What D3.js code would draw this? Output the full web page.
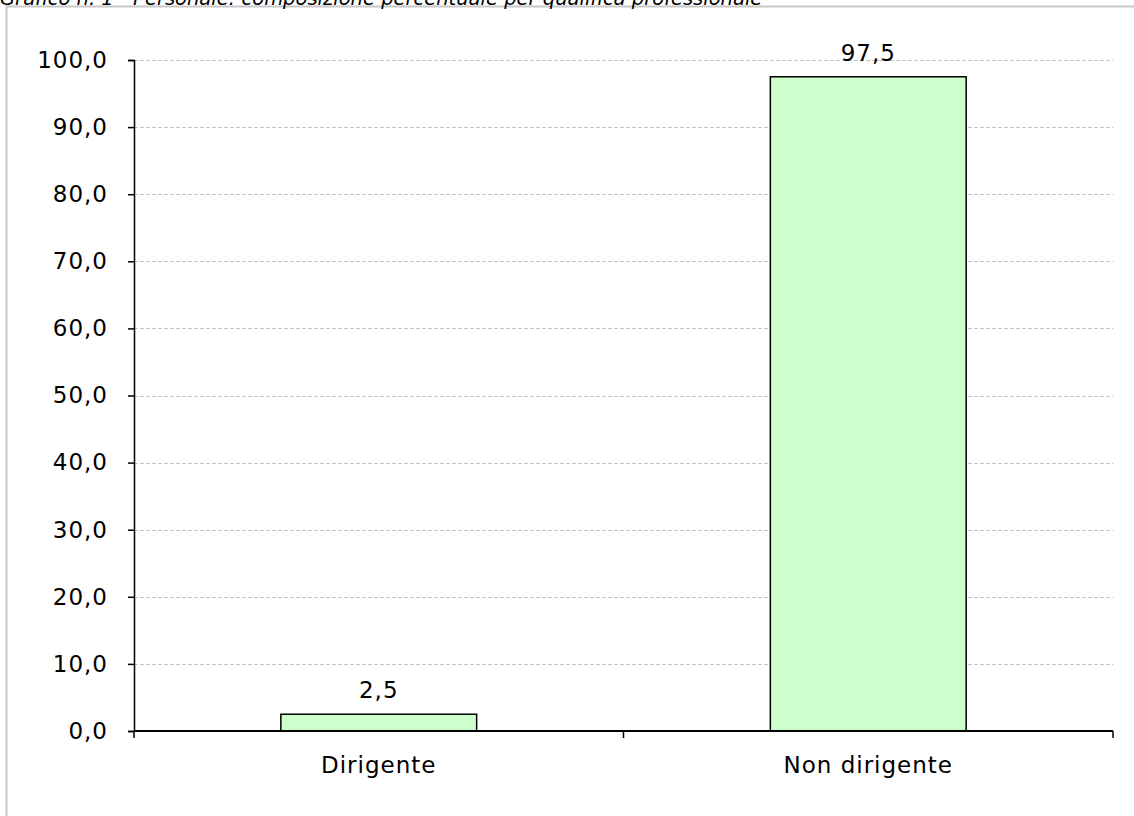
<!DOCTYPE html>
<html>
<head>
<meta charset="utf-8">
<title>Composizione percentuale per qualifica professionale</title>
<style>
  body { margin: 0; background: #fff; }
  svg { display: block; font-family: "DejaVu Sans", Verdana, sans-serif; }
</style>
</head>
<body>
<script src="https://d3js.org/d3.v7.min.js"></script>
<script>
// data
const categories = ['Dirigente', 'Non dirigente'];
const values = [2.5, 97.5];
const yTicks = [0, 10, 20, 30, 40, 50, 60, 70, 80, 90, 100];

const width = 1134, height = 816;
const margin = {top: 60, right: 21, bottom: 85, left: 134};
const fontSize = 23;

const svg = d3.select('body').append('svg')
    .attr('width', width)
    .attr('height', height);

// outer frame
svg.append('rect')
    .attr('x', 6.5).attr('y', 6.5)
    .attr('width', width + 10).attr('height', height + 10)
    .attr('fill', 'none')
    .attr('stroke', '#c8c8c8')
    .attr('stroke-width', 2);

// title, mostly cut at the top of the page
svg.append('text')
    .attr('x', 0)
    .attr('y', 5)
    .attr('font-style', 'italic')
    .attr('font-size', 19.5)
    .attr('fill', '#000')
    .text('Grafico n. 1 - Personale: composizione percentuale per qualifica professionale');

const x = d3.scaleBand()
    .domain(categories)
    .range([margin.left, width - margin.right]);

const y = d3.scaleLinear()
    .domain([0, 100])
    .range([height - margin.bottom, margin.top]);

// grid
svg.append('g')
    .selectAll('line')
    .data(yTicks.filter(d => d > 0))
    .join('line')
    .attr('x1', margin.left).attr('x2', width - margin.right)
    .attr('y1', d => Math.round(y(d)) + 0.5)
    .attr('y2', d => Math.round(y(d)) + 0.5)
    .attr('stroke', '#c4c4c4')
    .attr('stroke-dasharray', '4,2');

// bars
const barW = x.bandwidth() * 0.4;
svg.append('g')
    .selectAll('rect')
    .data(values)
    .join('rect')
    .attr('x', (d, i) => x(categories[i]) + (x.bandwidth() - barW) / 2)
    .attr('y', d => y(d))
    .attr('width', barW)
    .attr('height', d => y(0) - y(d))
    .attr('fill', '#ccffcc')
    .attr('stroke', '#000')
    .attr('stroke-width', 1.5);

// value labels
svg.append('g')
    .selectAll('text')
    .data(values)
    .join('text')
    .attr('x', (d, i) => x(categories[i]) + x.bandwidth() / 2)
    .attr('y', d => y(d) - 16)
    .attr('text-anchor', 'middle')
    .attr('font-size', fontSize)
    .attr('letter-spacing', 1)
    .text(d => d3.format('.1f')(d).replace('.', ','));

// y axis
const yAxis = svg.append('g')
    .attr('transform', `translate(${margin.left},0)`)
    .call(d3.axisLeft(y).tickValues(yTicks).tickSize(6).tickPadding(20)
        .tickFormat(d => d3.format('.1f')(d).replace('.', ',')));
yAxis.select('.domain').attr('stroke', '#000').attr('stroke-width', 1.5);
yAxis.selectAll('.tick line').attr('stroke', '#000').attr('stroke-width', 1.5);
yAxis.selectAll('text').attr('font-size', fontSize).attr('fill', '#000')
    .attr('letter-spacing', 1)
    .attr('font-family', '"DejaVu Sans", Verdana, sans-serif');

// x axis, ticks at category boundaries
const xAxis = svg.append('g')
    .attr('transform', `translate(0,${y(0)})`);
xAxis.append('line')
    .attr('x1', margin.left).attr('x2', width - margin.right)
    .attr('stroke', '#000').attr('stroke-width', 2);
const bounds = categories.map(c => x(c)).concat([x(categories[categories.length - 1]) + x.bandwidth()]);
xAxis.selectAll('line.tk')
    .data(bounds)
    .join('line')
    .attr('class', 'tk')
    .attr('x1', d => d).attr('x2', d => d)
    .attr('y1', 0).attr('y2', 7)
    .attr('stroke', '#000').attr('stroke-width', 1.5);
xAxis.selectAll('text')
    .data(categories)
    .join('text')
    .attr('x', d => x(d) + x.bandwidth() / 2)
    .attr('y', 42)
    .attr('text-anchor', 'middle')
    .attr('font-size', fontSize)
    .attr('letter-spacing', 1)
    .text(d => d);
</script>
</body>
</html>
